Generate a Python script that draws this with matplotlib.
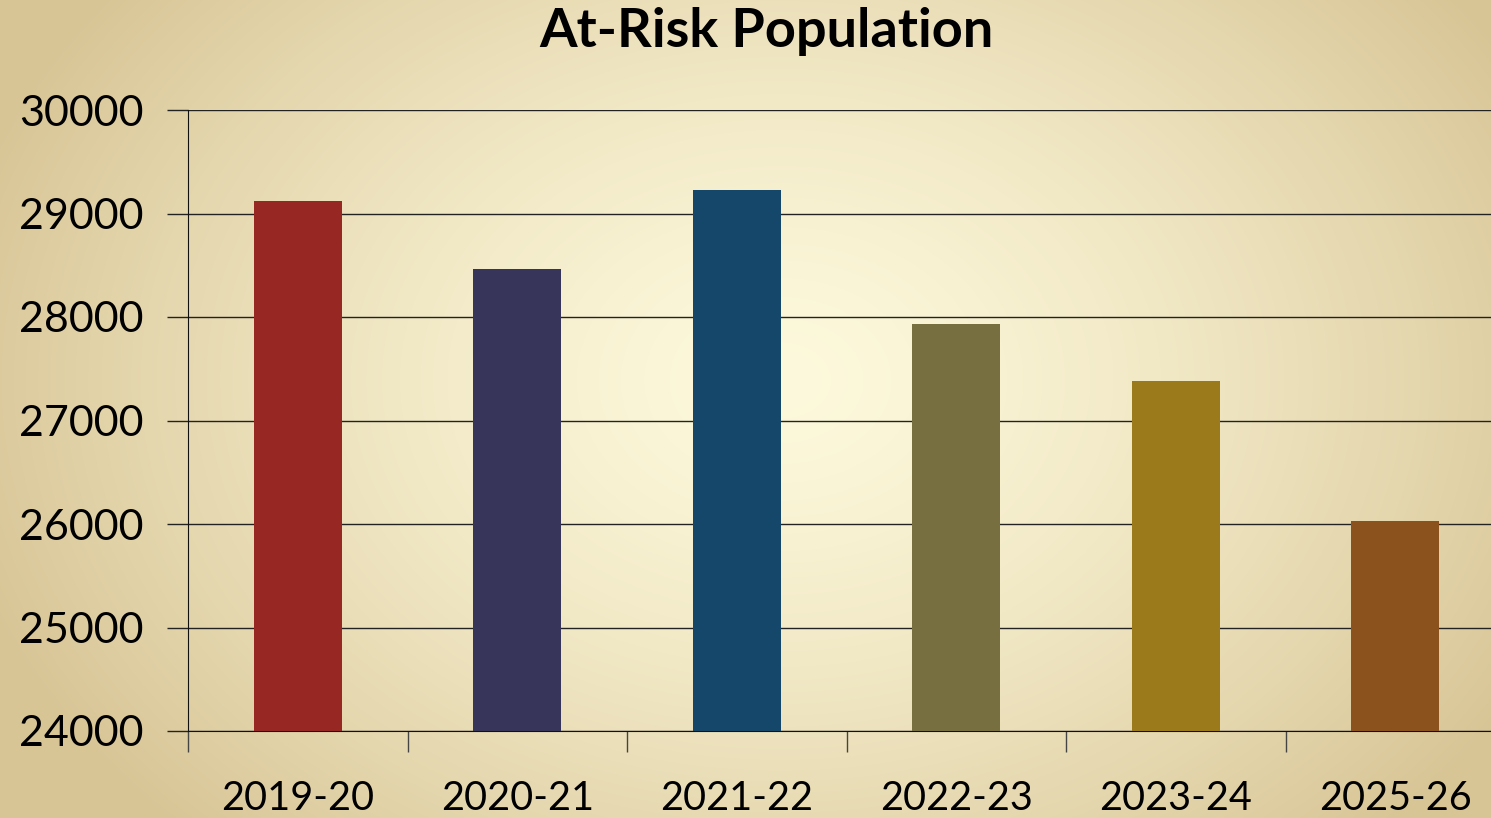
import matplotlib
matplotlib.use("Agg")
import matplotlib.pyplot as plt
import numpy as np

seasons = ["2019-20", "2020-21", "2021-22", "2022-23", "2023-24", "2025-26"]
at_risk = [29120, 28465, 29225, 27930, 27385, 26030]
bar_colors = ["#972723", "#38355A", "#15476B", "#776F3F", "#9A7A1A", "#8C521E"]
y_ticks = [24000, 25000, 26000, 27000, 28000, 29000, 30000]

W, H = 1491, 818
fig = plt.figure(figsize=(W / 100, H / 100), dpi=100)

# radial cream background
bg = fig.add_axes([0, 0, 1, 1], zorder=0)
yy, xx = np.mgrid[0:H, 0:W]
r = np.sqrt(((xx - 780) / 850) ** 2 + ((yy - 380) / 640) ** 2)
r = np.clip(r, 0, 1)
c0 = np.array([0xFD, 0xF9, 0xDC]) / 255
c1 = np.array([0xD8, 0xC5, 0x96]) / 255
img = c0 + (c1 - c0) * r[..., None] ** 1.4
bg.imshow(img, aspect="auto", extent=[0, 1, 0, 1])
bg.set_axis_off()

left, right, top, bottom = 188, 1491, 110, 731
ax = fig.add_axes([left / W, 1 - bottom / H, (right - left) / W, (bottom - top) / H], zorder=1)
ax.patch.set_alpha(0)

x = np.arange(len(seasons))
ax.bar(x, [v - 24000 for v in at_risk], bottom=24000, width=0.4, color=bar_colors, zorder=3)

cat_w = 219.5
ax.set_xlim(-0.5, -0.5 + (right - left) / cat_w)
ax.set_ylim(24000, 30000)

ax.set_yticks(y_ticks)
ax.set_yticklabels([str(v) for v in y_ticks], fontsize=31, family="Lato")
ax.yaxis.grid(True, color="#222222", linewidth=1.0, zorder=0)
ax.tick_params(axis="y", length=15, width=1, color="#222222", pad=17)

ax.set_xticks(x)
ax.set_xticklabels(seasons, fontsize=28.5, family="Lato")
ax.set_xticks(x - 0.5, minor=True)
ax.tick_params(axis="x", which="major", length=0, pad=35)
ax.tick_params(axis="x", which="minor", length=15, width=1, color="#444444")

for s in ["top", "right"]:
    ax.spines[s].set_visible(False)
ax.spines["left"].set_color("#111111")
ax.spines["bottom"].set_color("#111111")

fig.text(766 / W, 1 - 32 / H, "At-Risk Population", ha="center", va="center",
         fontsize=39, fontweight="bold", family="Lato")

fig.savefig("out.png", dpi=100)
